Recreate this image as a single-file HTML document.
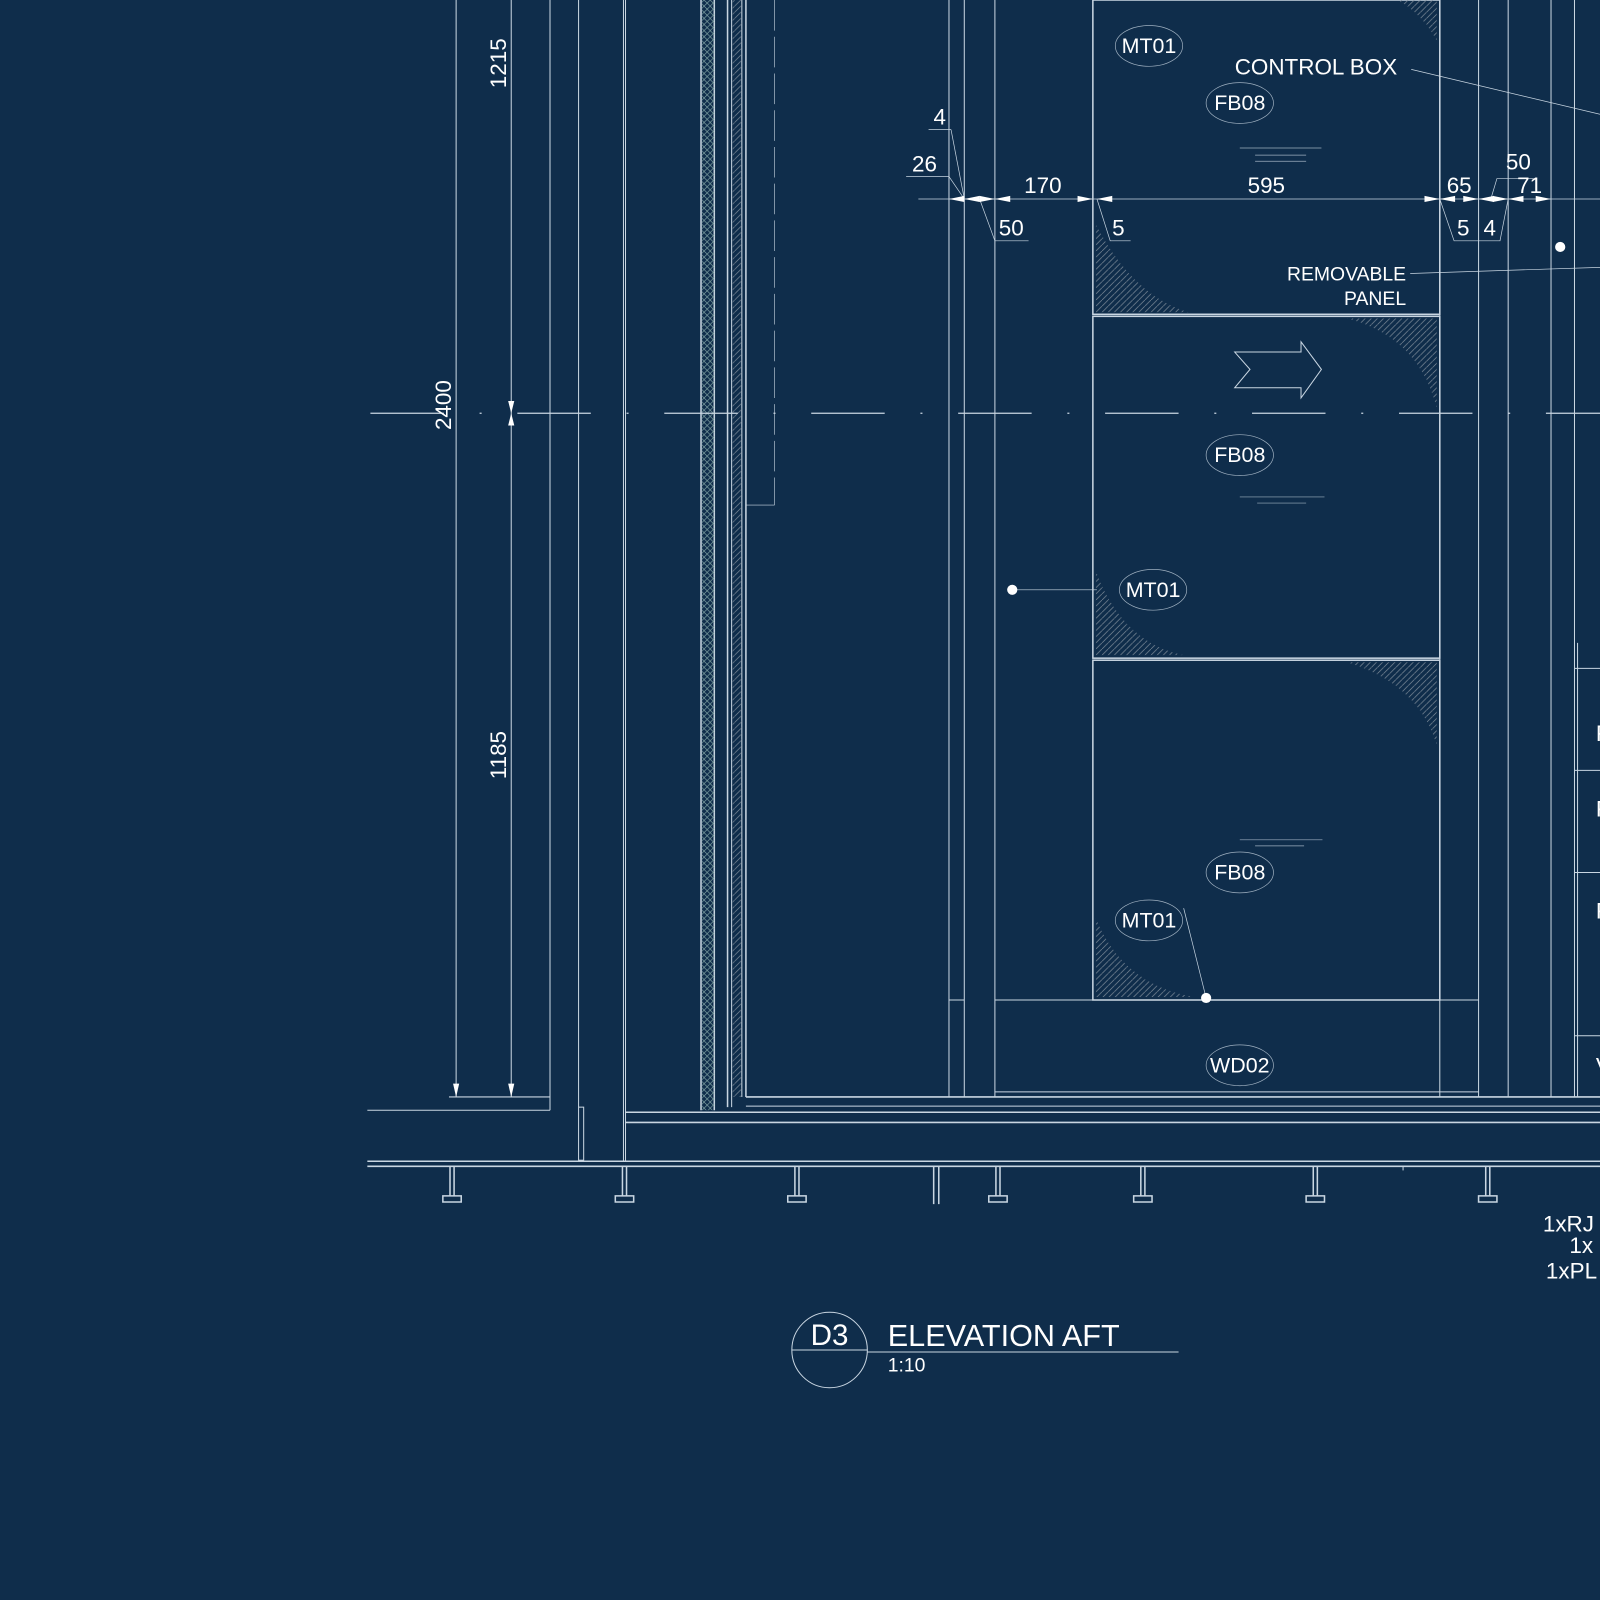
<!DOCTYPE html>
<html><head><meta charset="utf-8"><style>
html,body{margin:0;padding:0;background:#0f2d4b;}
svg{display:block}
text{font-family:"Liberation Sans",sans-serif;fill:#fff}
</style></head><body>
<svg width="1600" height="1600" viewBox="0 0 1568 1568" xmlns="http://www.w3.org/2000/svg">
<rect width="1568" height="1568" fill="#0f2d4b"/>
<defs>
<pattern id="hx" width="6" height="6" patternUnits="userSpaceOnUse"><path d="M0 0L6 6M6 0L0 6" stroke="#8aa" stroke-width="0.6"/></pattern>
<pattern id="hd" width="6" height="6" patternUnits="userSpaceOnUse"><path d="M0 6L6 0" stroke="#7f8c99" stroke-width="0.7"/></pattern>
</defs>
<g stroke="#c9d6e2" stroke-width="1" fill="none">
<!-- dimension verticals -->
<line x1="447" y1="0" x2="447" y2="1075"/>
<line x1="501" y1="0" x2="501" y2="1075"/>
<line x1="440" y1="1075" x2="539" y2="1075"/>
<line x1="539" y1="0" x2="539" y2="1088"/>
<line x1="567" y1="0" x2="567" y2="1085"/>
<line x1="611" y1="0" x2="611" y2="1138"/>
<line x1="613" y1="0" x2="613" y2="1138"/>
<line x1="360" y1="1088" x2="539" y2="1088"/>
<rect x="567" y="1085" width="5" height="52"/>
<!-- wall strips -->
<line x1="687" y1="0" x2="687" y2="1088" stroke-width="1.5"/>
<line x1="700" y1="0" x2="700" y2="1088" stroke-width="1.5"/>
<rect x="688" y="0" width="12" height="1088" fill="url(#hx)" stroke="none"/>
<line x1="713" y1="0" x2="713" y2="1085" stroke-width="1.5"/>
<line x1="717" y1="0" x2="717" y2="1085"/>
<line x1="727" y1="0" x2="727" y2="1075"/>
<line x1="731" y1="0" x2="731" y2="1075" stroke-width="1.5"/>
<rect x="718" y="0" width="9" height="1075" fill="url(#hd)" stroke="none"/>
<line x1="731" y1="495" x2="759" y2="495" stroke-width="0.6"/>
<line x1="759" y1="0" x2="759" y2="495" stroke-width="0.6" stroke-dasharray="30 6"/>
<line x1="930" y1="0" x2="930" y2="1075"/>
<line x1="945" y1="0" x2="945" y2="1075"/>
<line x1="930" y1="980" x2="945" y2="980"/>
<line x1="975" y1="0" x2="975" y2="1075"/>
<line x1="975" y1="980" x2="1449" y2="980"/>
<line x1="975" y1="1070" x2="1449" y2="1070"/>
<line x1="1449" y1="0" x2="1449" y2="1075"/>
<line x1="1411" y1="0" x2="1411" y2="1075"/>
<line x1="1478" y1="0" x2="1478" y2="1075"/>
<line x1="1520" y1="0" x2="1520" y2="1075"/>
<line x1="1543" y1="0" x2="1543" y2="1075"/>
<line x1="1546" y1="630" x2="1546" y2="1075"/>
<line x1="1543" y1="655" x2="1568" y2="655"/>
<line x1="1543" y1="755" x2="1568" y2="755"/>
<line x1="1543" y1="855" x2="1568" y2="855"/>
<line x1="1543" y1="1015" x2="1568" y2="1015"/>
<!-- panels -->
<rect x="1071" y="0" width="340" height="308" stroke-width="1.5"/>
<rect x="1071" y="310" width="340" height="335" stroke-width="1.5"/>
<rect x="1071" y="647" width="340" height="333" stroke-width="1.5"/>
<path d="M1074 220 Q1110 290 1165 306 L1074 306Z" fill="url(#hd)" stroke="none"/>
<path d="M1320 312 Q1390 330 1408 400 L1408 312Z" fill="url(#hd)" stroke="none"/>
<path d="M1074 560 Q1100 630 1160 642 L1074 642Z" fill="url(#hd)" stroke="none"/>
<path d="M1320 649 Q1390 670 1408 730 L1408 649Z" fill="url(#hd)" stroke="none"/>
<path d="M1074 900 Q1100 965 1170 977 L1074 977Z" fill="url(#hd)" stroke="none"/>
<path d="M1370 0 Q1395 15 1408 40 L1408 0Z" fill="url(#hd)" stroke="none"/>
<path d="M1210 345 L1275 345 L1275 335 L1295 362 L1275 390 L1275 380 L1210 380 L1225 362Z" stroke-width="1"/>
<!-- floor -->
<line x1="731" y1="1075" x2="1568" y2="1075" stroke-width="1.5"/>
<line x1="731" y1="1084" x2="1568" y2="1084"/>
<line x1="613" y1="1090" x2="1568" y2="1090" stroke-width="1.5"/>
<line x1="613" y1="1100" x2="1568" y2="1100" stroke-width="1.5"/>
<line x1="360" y1="1138" x2="1568" y2="1138" stroke-width="1.5"/>
<line x1="360" y1="1143" x2="1568" y2="1143" stroke-width="1.5"/>
<!-- centerline -->
<line x1="363" y1="405" x2="1568" y2="405" stroke-dasharray="72 35 2 35" stroke-width="1.3"/>
<!-- dimension line -->
<line x1="900" y1="195" x2="1568" y2="195" stroke-width="0.8"/>
<line x1="888" y1="173" x2="930" y2="173" stroke-width="0.7"/>
<line x1="930" y1="173" x2="945" y2="195" stroke-width="0.7"/>
<line x1="910" y1="127" x2="932" y2="127" stroke-width="0.7"/>
<line x1="932" y1="127" x2="945" y2="195" stroke-width="0.7"/>
<path d="M960 195 L975 236 L1008 236" stroke-width="0.7"/>
<path d="M1075 195 L1088 236 L1108 236" stroke-width="0.7"/>
<path d="M1411 195 L1425 236 L1470 236 L1478 195" stroke-width="0.7"/>
<path d="M1461 195 L1467 175 L1503 175" stroke-width="0.7"/>
<line x1="1383" y1="68" x2="1568" y2="112" stroke-width="0.7"/>
<line x1="1382" y1="268" x2="1568" y2="262" stroke-width="0.7"/>
<line x1="992" y1="578" x2="1075" y2="578" stroke-width="0.7"/>
<line x1="1182" y1="978" x2="1160" y2="890" stroke-width="0.7"/>
<!-- feet -->
<g stroke-width="1.5">
<path d="M441 1143V1172M445 1143V1172M434 1172H452V1178H434Z"/>
<path d="M610 1143V1172M614 1143V1172M603 1172H621V1178H603Z"/>
<path d="M779 1143V1172M783 1143V1172M772 1172H790V1178H772Z"/>
<path d="M976 1143V1172M980 1143V1172M969 1172H987V1178H969Z"/>
<path d="M1118 1143V1172M1122 1143V1172M1111 1172H1129V1178H1111Z"/>
<path d="M1287 1143V1172M1291 1143V1172M1280 1172H1298V1178H1280Z"/>
<path d="M1456 1143V1172M1460 1143V1172M1449 1172H1467V1178H1449Z"/>
<path d="M915 1143V1180M920 1143V1180"/>
</g>
<line x1="1375" y1="1143" x2="1375" y2="1147"/>
<!-- ellipses -->
<g stroke-width="0.7" stroke="#9fb0c0">
<ellipse cx="1126" cy="45" rx="33" ry="20"/>
<ellipse cx="1215" cy="101" rx="33" ry="20"/>
<ellipse cx="1215" cy="446" rx="33" ry="20"/>
<ellipse cx="1130" cy="578" rx="33" ry="20"/>
<ellipse cx="1215" cy="855" rx="33" ry="20"/>
<ellipse cx="1126" cy="902" rx="33" ry="20"/>
<ellipse cx="1215" cy="1044" rx="33" ry="20"/>
</g>
<g stroke-width="0.7" stroke="#9fb0c0">
<path d="M1215 145H1295M1230 152H1280M1230 158H1280"/>
<path d="M1215 487H1298M1232 493H1280"/>
<path d="M1215 823H1296M1230 829H1278"/>
</g>
<!-- title -->
<circle cx="813" cy="1323" r="37"/>
<line x1="776" y1="1323" x2="850" y2="1323"/>
<line x1="850" y1="1325" x2="1155" y2="1325"/>
</g>
<g fill="#fff">
<polygon points="447,1075 444,1062 450,1062"/>
<polygon points="501,1075 498,1062 504,1062"/>
<polygon points="501,405 498,393 504,393"/>
<polygon points="501,405 498,417 504,417"/>
<polygon points="930,195 945,192 945,198"/><polygon points="945,195 960,192 960,198"/>
<polygon points="975,195 960,192 960,198"/><polygon points="975,195 990,192 990,198"/>
<polygon points="1071,195 1056,192 1056,198"/><polygon points="1075,195 1090,192 1090,198"/>
<polygon points="1411,195 1396,192 1396,198"/><polygon points="1411,195 1426,192 1426,198"/>
<polygon points="1449,195 1434,192 1434,198"/><polygon points="1449,195 1464,192 1464,198"/>
<polygon points="1478,195 1463,192 1463,198"/><polygon points="1478,195 1493,192 1493,198"/>
<polygon points="1520,195 1505,192 1505,198"/>
<circle cx="992" cy="578" r="5"/>
<circle cx="1182" cy="978" r="5"/>
<circle cx="1529" cy="242" r="5"/>
</g>
<g font-size="22">
<text x="0" y="0" transform="translate(496,62) rotate(-90)" text-anchor="middle">1215</text>
<text x="0" y="0" transform="translate(442,397) rotate(-90)" text-anchor="middle">2400</text>
<text x="0" y="0" transform="translate(496,740) rotate(-90)" text-anchor="middle">1185</text>
<text x="921" y="122" text-anchor="middle">4</text>
<text x="906" y="168" text-anchor="middle">26</text>
<text x="1022" y="189" text-anchor="middle">170</text>
<text x="1241" y="189" text-anchor="middle">595</text>
<text x="1430" y="189" text-anchor="middle">65</text>
<text x="1499" y="189" text-anchor="middle">71</text>
<text x="1488" y="166" text-anchor="middle">50</text>
<text x="991" y="231" text-anchor="middle">50</text>
<text x="1096" y="231" text-anchor="middle">5</text>
<text x="1434" y="231" text-anchor="middle">5</text>
<text x="1460" y="231" text-anchor="middle">4</text>
<text x="1210" y="73">CONTROL BOX</text>
<text x="1564" y="726">F</text>
<text x="1564" y="800">F</text>
<text x="1564" y="900">F</text>
<text x="1564" y="1052">V</text>
<text x="1512" y="1207">1xRJ</text>
<text x="1538" y="1228">1x</text>
<text x="1515" y="1253">1xPL</text>
</g>
<g font-size="19">
<text x="1378" y="275" text-anchor="end">REMOVABLE</text>
<text x="1378" y="299" text-anchor="end">PANEL</text>
</g>
<g font-size="21" text-anchor="middle">
<text x="1126" y="52">MT01</text>
<text x="1215" y="108">FB08</text>
<text x="1215" y="453">FB08</text>
<text x="1130" y="585">MT01</text>
<text x="1215" y="862">FB08</text>
<text x="1126" y="909">MT01</text>
<text x="1215" y="1051">WD02</text>
</g>
<text x="813" y="1318" font-size="29" text-anchor="middle">D3</text>
<text x="870" y="1319" font-size="30">ELEVATION AFT</text>
<text x="870" y="1344" font-size="19">1:10</text>
</svg>
</body></html>
